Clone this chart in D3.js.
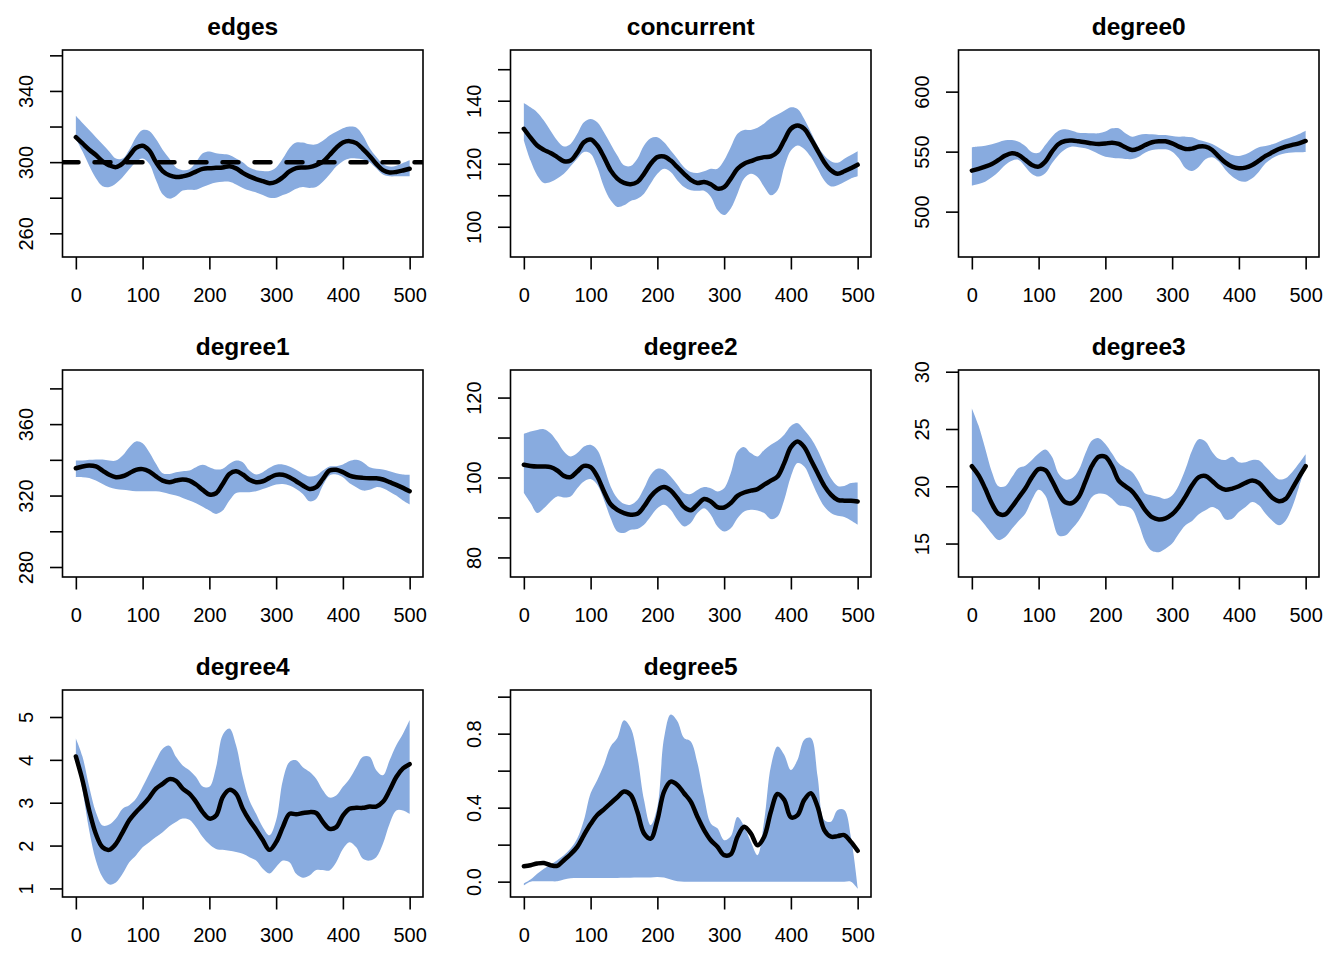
<!DOCTYPE html>
<html>
<head>
<meta charset="utf-8">
<script src="https://cdn.jsdelivr.net/npm/d3@7/dist/d3.min.js"></script>
<style>
  body { margin: 0; background: #fff; }
  text { font-family: "Liberation Sans", Arial, Helvetica, sans-serif; fill: #000; }
</style>
</head>
<body>
<div class="chart"></div>
<script>
// simulation steps (x) shared by every panel
var steps = [0,10,20,30,40,50,60,70,80,90,100,110,120,130,140,150,160,170,180,190,200,
             210,220,230,240,250,260,270,280,290,300,310,320,330,340,350,360,370,380,390,400,
             410,420,430,440,450,460,470,480,490,500];
var xTicks = [0, 100, 200, 300, 400, 500];

var edgesMean = [314,310.5,307,304,300.5,298.2,297.2,299.2,303.5,308,309.2,306.5,300,295,292.6,291.6,292,293,294.7,296.2,
                 296.6,296.8,297,297.7,296.5,294,292,290.5,289.3,288.2,289,291.5,294.8,296.6,297,297.2,298.3,300.2,304,308,
                 311,311.8,310.7,307.3,303.5,299,295.5,294.2,294.5,295.3,296.3];
var edgesHi = [326,322,318,314,310,306,302,302,307,314,318,317.5,313,307,302,297,295.5,296,300,305,
               306,305,304.5,304,302,300,297,295.5,295,295,297,302,308,311,311,310,310,312,315,317,
               319,320,319.5,315,308,303,299,297.5,298,299.5,301];
var edgesLo = [313,306,298,291,286.5,286,288,291.5,296,300,302,299,290,282,279.5,281,284,284.5,284.5,286,
               287.5,288.5,289,289,287.5,285.5,284,283,281.5,280,280,281.5,283,285,286,285.5,286,289,293,297.5,
               300.5,302,302,301.5,300,296.5,293,292,292,292,292];

var concMean = [131.1,128.3,125.8,124.4,123.4,122.1,120.8,121,123.5,126.8,127.7,125.8,122.1,117.9,115.3,113.9,113.5,114.2,116.8,120,
                122.1,122.3,121,118.9,116.8,114.9,113.9,114.2,113.5,112.1,112.6,115.3,118.4,120,120.8,121.6,122.1,122.3,123.7,127.4,
                131.1,132.1,131.1,127.9,124.2,120.5,117.9,116.8,117.6,118.6,119.7];
var concHi = [139.3,137.9,136.3,133.7,130.5,127.4,125.5,126.3,129.5,133.2,134.2,133.2,130,126.3,122.6,119.5,119.3,121.6,125.8,128.1,
              128.4,126.8,124.2,121.6,118.9,117.4,117.1,117.6,118.4,118.4,121.1,125.3,129.5,130.7,130.7,131.4,132.8,134.5,135.6,136.8,
              137.9,137.4,134.2,130,125.8,122.6,120.8,120.3,121.6,122.8,124];
var concLo = [127.4,121,116.3,113.9,114.2,115.3,116.8,119.2,121.6,123.7,123.2,118.9,112.6,108.4,106.3,106.8,108.2,108.9,110.5,113.7,
              116.8,118.4,117.4,114.7,112.6,111.6,111.4,111.4,109.5,105.3,103.7,105.8,110.5,115.3,116.8,115.8,112.6,110,111.6,118.9,
              124.2,125.8,124.7,122.1,118.4,114.7,112.8,113.2,114.2,115.3,116];

var deg0Mean = [534.2,535.6,537.5,539.7,543.1,546.7,548.6,547.2,543.1,538.9,537.5,541.7,550,556.4,558.9,559.2,558.6,557.8,556.9,556.4,
                556.7,557.5,556.4,553.6,551.4,552.8,555.6,557.8,558.6,558.6,556.9,554.2,552.2,552.5,554.2,554.2,551.4,545.8,540.8,537.5,
                536.1,536.7,538.9,542.5,546.4,549.4,552.2,554.2,555.6,556.9,558.9];
var deg0Hi = [553.6,554.2,555,556.1,557.8,559.4,559.7,558.3,554.7,549.5,549,555.6,562.5,567.5,568.6,567.5,565.8,565.6,565.3,565.3,
              566.7,569.4,569.4,565.3,562.5,563.9,564.7,564.4,563.9,563.9,563.1,562.5,562.5,561.9,559.7,558.3,556.4,553.3,550,547.2,
              546.4,547.8,550.8,553.6,554.7,556.1,558.3,560.6,562.5,564.7,567.5];
var deg0Lo = [521.7,523.1,525,528.6,533.3,538.9,542.5,543.1,537.5,531.4,529.2,531.9,540.3,547.2,551.9,554.2,553.6,552.8,550.8,548.1,
              545.8,545,544.4,543.9,543.9,545.8,549.2,551.4,551.9,551.9,550,544.4,536.1,533.9,537.5,543.6,545.3,541.7,534.7,529.2,
              525.8,525,527.8,533.3,540.3,544.4,547.2,548.6,549.2,549.4,549.7];

var deg1Mean = [335.3,336.3,336.8,336.3,334,331.6,330.3,330.8,332.5,334.4,334.8,333.5,330.7,328.4,327.5,328.4,329,328.4,326.2,323.2,
                320.6,321.3,326.5,332.1,333.6,331.8,328.8,327.5,328,329.9,331.6,331.6,330.3,328,325.6,323.7,324.7,329.3,334,334.4,
                333.1,331.2,330.3,329.9,329.7,329.7,329,327.5,326,324.3,322.4];
var deg1Hi = [339.6,339.6,340,340.2,340.2,339.6,339.6,342.4,347.1,350.3,349.3,344.3,337.8,332.5,332.1,333.1,333.6,334,335.9,337.2,
              335.9,334.6,335,337.8,339.6,338.7,334,331.8,333.1,335.5,337.2,337.4,336.3,334.4,332.1,330.7,331.2,334,336.3,336.4,
              337.4,339.3,340,338.7,335.9,335,334.6,333.6,332.5,331.8,331.6];
var deg1Lo = [330.3,330.3,329.9,328.4,326.5,324.7,323.7,323.2,322.8,322.4,322.4,322.4,322.4,321.9,320.9,320,318.7,317.2,315.7,313.8,
              311.6,309.7,311.6,317.2,321.5,321.9,321.9,322.4,323.7,325,326.2,326.5,325.6,323.7,320.9,316.8,318.1,325.6,331.2,331.8,
              330.3,326.9,324.7,322.8,323.2,324.7,324.1,322.2,320,317.2,315];

var deg2Mean = [103.2,102.9,102.75,102.75,102.6,101.75,100.4,100.1,101.5,102.9,102.6,100.25,96.5,93.3,91.9,91.1,90.7,90.9,92.75,95.25,
                96.9,97.6,96.75,94.8,92.6,91.8,93.2,94.6,94,92.6,92.5,93.6,95.4,96.25,96.7,97.1,98.2,99.2,100.25,103.6,
                107.6,109,107.6,104.4,101.1,97.9,95.7,94.4,94.2,94.2,94];
var deg2Hi = [110.9,111.5,111.9,112.1,111.1,109,106.5,105.25,106.1,107.75,108.2,106.9,102.75,97.75,94.8,93.4,93.2,94.4,97.3,100.7,
              102.2,101.9,100.25,98.2,96.1,95.9,96.9,97.6,97.3,96.5,97.3,101.1,106.5,107.6,106.1,105.25,106.9,108.2,109.2,110.7,
              112.9,113.6,111.9,109.8,106.9,103.2,99.8,97.9,97.9,98.6,98.75];
var deg2Lo = [96.1,93.6,91.1,92.3,94,95.25,95,95.25,97.3,99,99.6,98.2,94.4,89.8,86.5,86.1,86.9,87.1,88.2,90.25,
              92.3,93.2,91.9,89.4,87.75,88.6,91.1,92.3,90.7,87.75,86.5,87.3,89.8,91.5,91.9,91.75,91.1,89.6,90.25,94.4,
              100.25,103.6,102.75,99.4,95.7,92.75,91.1,90.4,90.1,89.25,88.2];

var deg3Mean = [21.75,20.96,19.8,18.48,17.6,17.55,18.2,19,19.8,20.8,21.5,21.4,20.5,19.36,18.6,18.54,19.07,20.4,21.8,22.57,
                22.57,21.75,20.5,20,19.56,18.8,17.9,17.3,17.1,17.2,17.55,18.2,19.1,20.1,20.8,20.9,20.47,19.94,19.7,19.8,
                20,20.3,20.5,20.3,19.65,19,18.7,18.9,19.8,20.8,21.75];
var deg3Hi = [26.8,25.3,23.3,21.25,20,20,20.8,21.6,21.8,22.3,22.86,23.2,22.57,21.1,20.6,20.7,21.4,22.86,24,24.2,
              23.7,22.86,22,21.6,21.25,20.4,19.36,19.2,19.07,18.9,19.2,20.1,21.5,23.15,24.1,23.9,23,22.4,22.3,22.57,
              22.1,22.1,22.3,22.27,21.7,21.1,20.6,20.7,21.25,22,22.8];
var deg3Lo = [17.84,17.3,16.6,15.86,15.3,15.57,16.3,16.97,17.6,18.83,19.7,19.2,17.3,15.7,15.7,16.3,17,18,19.07,19.36,
              19.3,18.9,18.34,18.25,18,16.7,15.1,14.34,14.25,14.55,15,15.86,16.6,16.97,17.55,17.9,18.2,17.9,17.1,17.17,
              17.75,18.2,18.63,18.34,17.6,17,16.6,17,18.2,19.94,21.7];

var deg4Mean = [4.08,3.52,2.82,2.27,1.96,1.9,2.04,2.31,2.59,2.78,2.94,3.12,3.33,3.44,3.55,3.51,3.33,3.21,3.02,2.78,
                2.63,2.7,3.13,3.3,3.21,2.86,2.59,2.37,2.13,1.9,2.08,2.43,2.74,2.73,2.76,2.78,2.76,2.55,2.39,2.43,
                2.7,2.86,2.88,2.88,2.91,2.91,3.02,3.29,3.6,3.8,3.9];
var deg4Hi = [4.5,4.07,3.37,2.78,2.47,2.49,2.63,2.86,2.94,3.09,3.37,3.68,3.99,4.26,4.33,4.07,3.87,3.76,3.6,3.38,
              3.37,3.83,4.58,4.73,4.34,3.6,3.05,2.74,2.43,2.24,2.59,3.52,3.95,3.99,3.83,3.72,3.56,3.29,3.12,3.17,
              3.37,3.56,3.83,4.07,4.07,3.76,3.64,3.99,4.34,4.61,4.93];
var deg4Lo = [4.07,3.29,2.35,1.65,1.26,1.09,1.14,1.34,1.61,1.77,1.96,2.08,2.2,2.31,2.45,2.55,2.63,2.6,2.43,2.2,
              2.03,1.92,1.9,1.88,1.85,1.81,1.73,1.65,1.46,1.35,1.5,1.65,1.61,1.34,1.25,1.3,1.43,1.43,1.42,1.61,
              1.92,2.08,1.96,1.69,1.65,1.73,2.04,2.51,2.82,2.82,2.74];

var deg5Mean = [0.083,0.089,0.098,0.101,0.089,0.085,0.116,0.148,0.188,0.252,0.311,0.36,0.391,0.424,0.456,0.487,0.469,0.378,0.261,0.233,
                0.333,0.487,0.541,0.523,0.478,0.433,0.351,0.279,0.224,0.188,0.143,0.148,0.243,0.297,0.261,0.197,0.243,0.378,0.474,0.442,
                0.348,0.36,0.442,0.478,0.405,0.279,0.243,0.246,0.252,0.215,0.167];
var deg5Hi = [-0.01,0.011,0.043,0.07,0.092,0.116,0.143,0.179,0.233,0.333,0.478,0.55,0.632,0.731,0.776,0.872,0.831,0.677,0.442,0.306,
              0.405,0.776,0.903,0.867,0.776,0.758,0.641,0.46,0.315,0.288,0.224,0.245,0.35,0.3,0.215,0.143,0.33,0.623,0.731,0.686,
              0.604,0.659,0.767,0.776,0.568,0.333,0.324,0.387,0.387,0.24,-0.029];
var deg5Lo = [-0.02,0,0.002,0.002,0.002,0.002,0.011,0.018,0.02,0.02,0.02,0.02,0.02,0.02,0.02,0.021,0.021,0.022,0.022,0.023,
              0.025,0.022,0.011,0.002,0,0,0,0,0,0,0,0,0,0,0,0,0,0,0,0,
              0,0,0,0,0,0,0,0,0,0,-0.038];

var panels = [
  {title: "edges",      mean: edgesMean, hi: edgesHi, lo: edgesLo, domain: [246.7, 363],
   ticks: [260,280,300,320,340,360], labels: [260,300,340], target: 300},
  {title: "concurrent", mean: concMean, hi: concHi, lo: concLo, domain: [90.4, 156.1],
   ticks: [100,110,120,130,140,150], labels: [100,120,140]},
  {title: "degree0",    mean: deg0Mean, hi: deg0Hi, lo: deg0Lo, domain: [462.2, 634.7],
   ticks: [500,550,600], labels: [500,550,600]},
  {title: "degree1",    mean: deg1Mean, hi: deg1Hi, lo: deg1Lo, domain: [274.4, 390.3],
   ticks: [280,300,320,340,360,380], labels: [280,320,360]},
  {title: "degree2",    mean: deg2Mean, hi: deg2Hi, lo: deg2Lo, domain: [75.1, 126.9],
   ticks: [80,90,100,110,120], labels: [80,100,120]},
  {title: "degree3",    mean: deg3Mean, hi: deg3Hi, lo: deg3Lo, domain: [12.08, 30.15],
   ticks: [15,20,25,30], labels: [15,20,25,30]},
  {title: "degree4",    mean: deg4Mean, hi: deg4Hi, lo: deg4Lo, domain: [0.80, 5.63],
   ticks: [1,2,3,4,5], labels: [1,2,3,4,5]},
  {title: "degree5",    mean: deg5Mean, hi: deg5Hi, lo: deg5Lo, domain: [-0.083, 1.036],
   ticks: [0,0.2,0.4,0.6,0.8,1.0], labels: [0,0.4,0.8], fmt: ".1f"}
];

var W = 1344, H = 960,
    cellW = 448, cellH = 320,
    margin = {top: 50, right: 25, bottom: 63, left: 62.5},
    width = cellW - margin.left - margin.right,
    height = cellH - margin.top - margin.bottom;

var svg = d3.select(".chart")
  .append("svg")
    .attr("width", W)
    .attr("height", H);

panels.forEach(function(p, i) {
    var col = i % 3, row = Math.floor(i / 3);

    var g = svg.append("g")
        .attr("transform", "translate(" + (col * cellW + margin.left) + "," + (row * cellH + margin.top) + ")");

    // R style axis: 4% padding around 0..500
    var x = d3.scaleLinear()
        .domain([-20, 520])
        .range([0, width]);

    var y = d3.scaleLinear()
        .domain(p.domain)
        .range([height, 0]);

    g.append("clipPath")
        .attr("id", "clip" + i)
      .append("rect")
        .attr("width", width)
        .attr("height", height);

    var plot = g.append("g").attr("clip-path", "url(#clip" + i + ")");

    var band = d3.area()
        .x(function(d, j) { return x(steps[j]); })
        .y0(function(d, j) { return y(p.lo[j]); })
        .y1(function(d, j) { return y(p.hi[j]); })
        .curve(d3.curveCatmullRom);

    var line = d3.line()
        .x(function(d, j) { return x(steps[j]); })
        .y(function(d) { return y(d); })
        .curve(d3.curveCatmullRom);

    plot.append("path")
        .datum(p.mean)
        .attr("fill", "#88abdf")
        .attr("stroke", "none")
        .attr("d", band);

    plot.append("path")
        .datum(p.mean)
        .attr("fill", "none")
        .attr("stroke", "#000")
        .attr("stroke-width", 4.5)
        .attr("stroke-linejoin", "round")
        .attr("stroke-linecap", "round")
        .attr("d", line);

    if (p.target !== undefined) {
        plot.append("line")
            .attr("x1", 0)
            .attr("x2", width)
            .attr("y1", y(p.target))
            .attr("y2", y(p.target))
            .attr("stroke", "#000")
            .attr("stroke-width", 4.5)
            .attr("stroke-linecap", "round")
            .attr("stroke-dasharray", "16,16");
    }

    // box
    g.append("rect")
        .attr("width", width)
        .attr("height", height)
        .attr("fill", "none")
        .attr("stroke", "#000")
        .attr("stroke-width", 1.6);

    var xaxis = d3.axisBottom(x)
        .tickValues(xTicks)
        .tickSize(12.5)
        .tickPadding(18.5)
        .tickFormat(d3.format("d"));

    var fmt = d3.format(p.fmt || "d");
    var yaxis = d3.axisLeft(y)
        .tickValues(p.ticks)
        .tickSize(12.5)
        .tickFormat(function(d) { return p.labels.indexOf(d) >= 0 ? fmt(d) : ""; });

    var gx = g.append("g")
        .attr("class", "x axis")
        .attr("transform", "translate(0," + height + ")")
        .call(xaxis);

    var gy = g.append("g")
        .attr("class", "y axis")
        .call(yaxis);

    [gx, gy].forEach(function(a) {
        a.select(".domain").remove();
        a.selectAll(".tick line").attr("stroke", "#000").attr("stroke-width", 1.6);
        a.selectAll(".tick text")
            .attr("fill", "#000")
            .attr("font-size", "20px")
            .attr("font-family", "Liberation Sans, Arial, sans-serif");
    });

    // y labels run parallel to the axis
    gy.selectAll(".tick text")
        .attr("x", null)
        .attr("dy", null)
        .attr("text-anchor", "middle")
        .attr("transform", "translate(-29.5,0) rotate(-90)");

    g.append("text")
        .attr("x", width / 2)
        .attr("y", -15)
        .attr("text-anchor", "middle")
        .attr("font-size", "24.5px")
        .attr("font-weight", "bold")
        .text(p.title);
});
</script>
</body>
</html>
